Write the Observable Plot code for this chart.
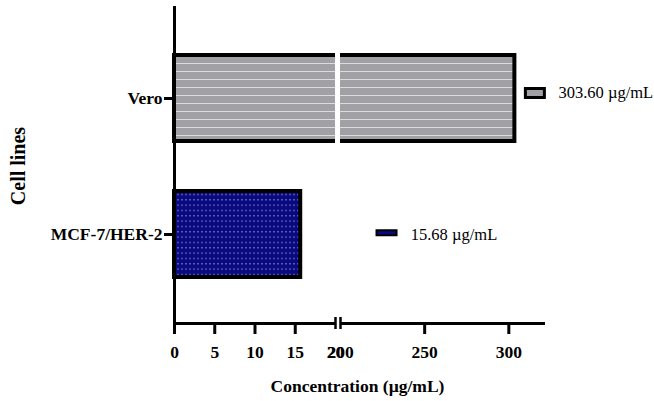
<!DOCTYPE html>
<html>
<head>
<meta charset="utf-8">
<script src="https://cdn.jsdelivr.net/npm/d3@7"></script>
<script src="https://cdn.jsdelivr.net/npm/@observablehq/plot@0.6"></script>
<style>
  html, body { margin: 0; padding: 0; background: #fff; }
  #chart svg { display: block; }
</style>
</head>
<body>
<div id="chart"></div>
<script>
// ---- data ----
const cellLines = ["Vero", "MCF-7/HER-2"];
const ic50 = [303.60, 15.68];
const xTicks = [0, 5, 10, 15, 20, 200, 250, 300];
const axisBreak = [20, 200];
const xMax = 320.6;
const units = "µg/mL";
const xLabel = "Concentration (µg/mL)";
const yLabel = "Cell lines";

// ---- derived table ----
const data = cellLines.map((cell, i) => ({cell, value: ic50[i]}));
const tickLines = xTicks.filter(t => !axisBreak.includes(t));

// ---- broken-axis transform (piecewise linear: 0–20 wide, 200–max compressed) ----
const breakTransform = d3.scaleLinear()
  .domain([0, axisBreak[0], axisBreak[1], xMax])
  .range([0, 161, 166, 369]);

// ---- styles ----
const patternOf = {"Vero": "url(#stripes)", "MCF-7/HER-2": "url(#dots)"};
const swatchFill = {"Vero": "#a1a1a5", "MCF-7/HER-2": "url(#dots)"};
const wideSwatch = {draw(ctx) { ctx.rect(-9.5, -4.5, 19, 9); }};
const flatSwatch = {draw(ctx) { ctx.rect(-10, -2.5, 20, 5); }};
const font = "'Liberation Serif', 'Times New Roman', serif";

const svg = Plot.plot({
  width: 654,
  height: 401,
  marginTop: 6,
  marginBottom: 78,
  marginLeft: 174,
  marginRight: 111,
  style: {fontFamily: font, color: "black", background: "white", overflow: "visible"},
  x: {type: "linear", transform: breakTransform, domain: [0, 369], axis: null},
  y: {domain: cellLines, range: [7.6, 324.8], paddingInner: 0.371, paddingOuter: 0.35, axis: null},
  marks: [
    ...data.map(d => Plot.barX([d], {
      x: "value", y: "cell", fill: patternOf[d.cell], stroke: "black", strokeWidth: 4
    })),
    Plot.frame({anchor: "bottom", stroke: "black", strokeWidth: 3}),
    // white gap of the broken axis
    Plot.rect([axisBreak], {x1: d => d[0], x2: d => d[1], fill: "white", insetBottom: -4}),
    Plot.ruleX([0], {stroke: "black", strokeWidth: 3}),
    // break marks
    Plot.axisX(axisBreak, {tickSize: 12, dy: -6, strokeWidth: 2.5, tickFormat: () => "", label: null}),
    // x ticks
    Plot.axisX(tickLines, {tickSize: 11, strokeWidth: 3, tickFormat: () => "", label: null}),
    // x tick labels
    Plot.axisX(xTicks, {tickSize: 0, tickPadding: 22.5, fontSize: 17.5, fontWeight: "bold", label: null}),
    // y axis
    Plot.axisY({tickSize: 10, tickPadding: 2, strokeWidth: 3, fontSize: 17.5, fontWeight: "bold", label: null}),
    // axis titles
    Plot.text([xLabel], {text: d => d, frameAnchor: "bottom", lineAnchor: "middle", textAnchor: "middle", dy: 63, dx: -1.5, fontSize: 17.5, fontWeight: "bold"}),
    Plot.text([yLabel], {text: d => d, frameAnchor: "left", lineAnchor: "middle", textAnchor: "middle", dx: -156, dy: 1, rotate: -90, fontSize: 20, fontWeight: "bold"}),
    // in-plot legends
    Plot.dot([data[0]], {x: "value", y: "cell", symbol: wideSwatch, fill: swatchFill[data[0].cell], stroke: "black", strokeWidth: 3, dx: 20, dy: -5.5}),
    Plot.text([data[0]], {x: "value", y: "cell", text: d => `${d.value.toFixed(2)} ${units}`, textAnchor: "start", dx: 43.5, dy: -5.6, fontSize: 16.5}),
    Plot.dot([data[1]], {x: "value", y: "cell", symbol: flatSwatch, fill: swatchFill[data[1].cell], stroke: "black", strokeWidth: 2, dx: 85.8, dy: -1.7}),
    Plot.text([data[1]], {x: "value", y: "cell", text: d => `${d.value.toFixed(2)} ${units}`, textAnchor: "start", dx: 110, dy: 0, fontSize: 16.5})
  ]
});

d3.select(svg).insert("defs", ":first-child").html(`
  <pattern id="stripes" patternUnits="userSpaceOnUse" width="8" height="8">
    <rect width="8" height="8" fill="#a1a1a5"></rect>
    <rect y="7" width="8" height="1.2" fill="#dcdcdc"></rect>
  </pattern>
  <pattern id="dots" patternUnits="userSpaceOnUse" width="4" height="16" patternTransform="scale(1,0.3333)">
    <rect width="4" height="16" fill="#0a0a80"></rect>
    <rect x="1.5" y="6" width="1" height="3" fill="#dde0ff"></rect>
  </pattern>`);

document.getElementById("chart").appendChild(svg);
</script>
</body>
</html>
